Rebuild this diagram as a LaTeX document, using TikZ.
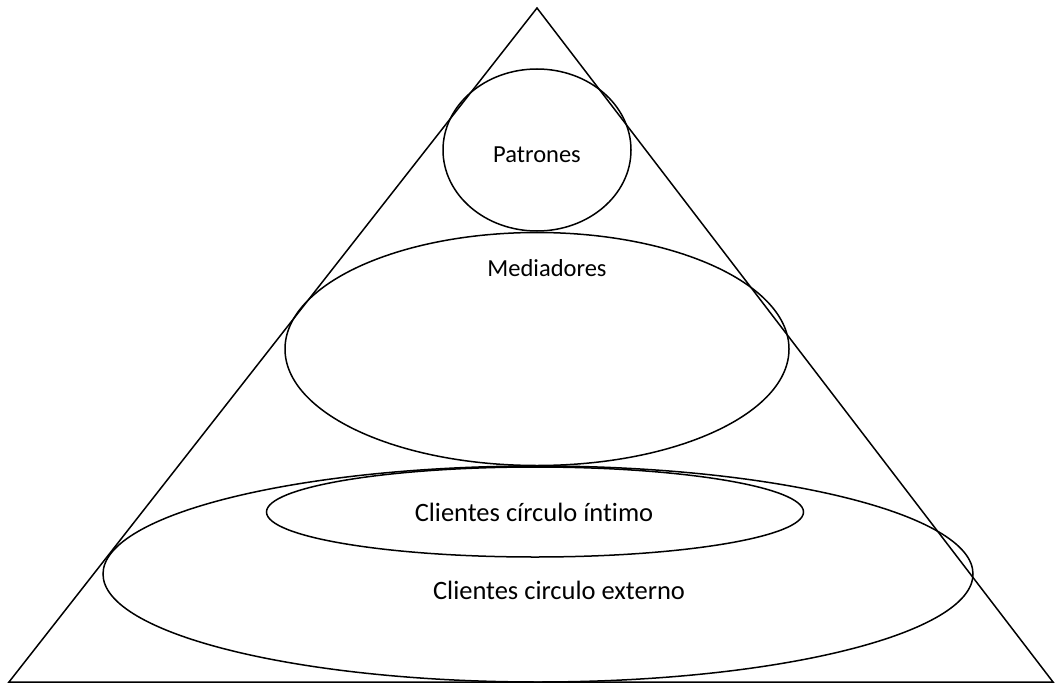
\documentclass[tikz,border=0pt]{standalone}
\usepackage{fontspec}
\setmainfont[Ligatures=NoCommon]{Carlito}
\usetikzlibrary{shapes.geometric}
\begin{document}
\begin{tikzpicture}[x=1pt,y=-1pt,
  oval/.style={ellipse, draw, line width=1.5pt, inner sep=0pt, outer sep=0pt},
  lbl/.style={inner sep=0pt, text=black}]
\useasboundingbox (0,0) rectangle (1055,685);
\coordinate (apex) at (537,8);
\coordinate (bl) at (9,682);
\coordinate (br) at (1053,682);
\draw[line width=1.5pt, line join=miter] (apex) -- (br) -- (bl) -- cycle;
\node[oval, minimum width=188pt, minimum height=162pt] (patr) at (537,150) {};
\node[oval, minimum width=504pt, minimum height=233pt] (med) at (537,349) {};
\node[oval, minimum width=870pt, minimum height=216pt] (ext) at (538,574) {};
\node[oval, minimum width=537pt, minimum height=90pt] (int) at (535,512) {};
\node[lbl, font=\fontsize{24.5}{29}\selectfont] (tp) at (537,155) {Patrones};
\node[lbl, font=\fontsize{24.5}{29}\selectfont] (tm) at (547,268) {Mediadores};
\node[lbl, font=\fontsize{26.5}{32}\selectfont] (ti) at (534,512) {Clientes círculo íntimo};
\node[lbl, font=\fontsize{26.5}{32}\selectfont] (te) at (559,590) {Clientes circulo externo};
\end{tikzpicture}
\end{document}
